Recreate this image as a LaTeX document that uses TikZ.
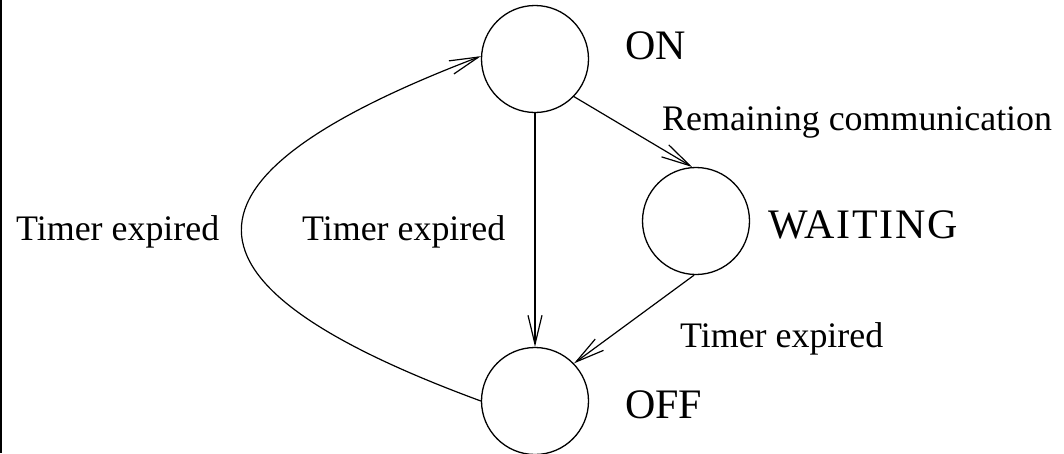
\documentclass[tikz,border=0pt]{standalone}
\usepackage{fontspec}
\setmainfont{Liberation Serif}
\newfontfamily\widefont[LetterSpace=4]{Liberation Serif}
\usetikzlibrary{arrows.meta}
\begin{document}
\begin{tikzpicture}[x=1pt,y=-1pt,
  state/.style={circle,draw,line width=1.3pt,minimum size=107pt,inner sep=0pt},
  statename/.style={anchor=base west,inner sep=0pt,font=\fontsize{42}{48}\selectfont},
  edgelabel/.style={anchor=base west,inner sep=0pt,font=\fontsize{35.9}{42}\selectfont},
  trans/.style={line width=1.2pt,-{Straight Barb[length=29pt,width=14pt,line width=1.2pt]}}]
  \useasboundingbox (0,0) rectangle (1064,453);
  % left frame rule
  \draw[line width=2pt] (1,0) -- (1,453);

  % states
  \node[state] (on)   at (535,59)  {};
  \node[state] (wait) at (696,221) {};
  \node[state] (off)  at (535,401) {};

  \node[statename] (onname)   at (625,59)  {ON};
  \node[statename] (waitname) at (768,238) {\widefont WAITING};
  \node[statename] (offname)  at (625,418) {OFF};

  % transitions
  \draw[trans] (on.south) -- (off.north);
  \draw[trans] (on.-44) -- (wait.94);
  \draw[trans] (wait.-92) -- (off.44);
  \draw[trans] (off.180) .. controls (163,284) and (161,178) .. (on.177);

  % transition labels
  \node[edgelabel] (lremain) at (662,130) {Remaining communication};
  \node[edgelabel] (lleft)   at (16,240)  {Timer expired};
  \node[edgelabel] (lmid)    at (302,240) {Timer expired};
  \node[edgelabel] (lwait)   at (680,347) {Timer expired};
\end{tikzpicture}
\end{document}
